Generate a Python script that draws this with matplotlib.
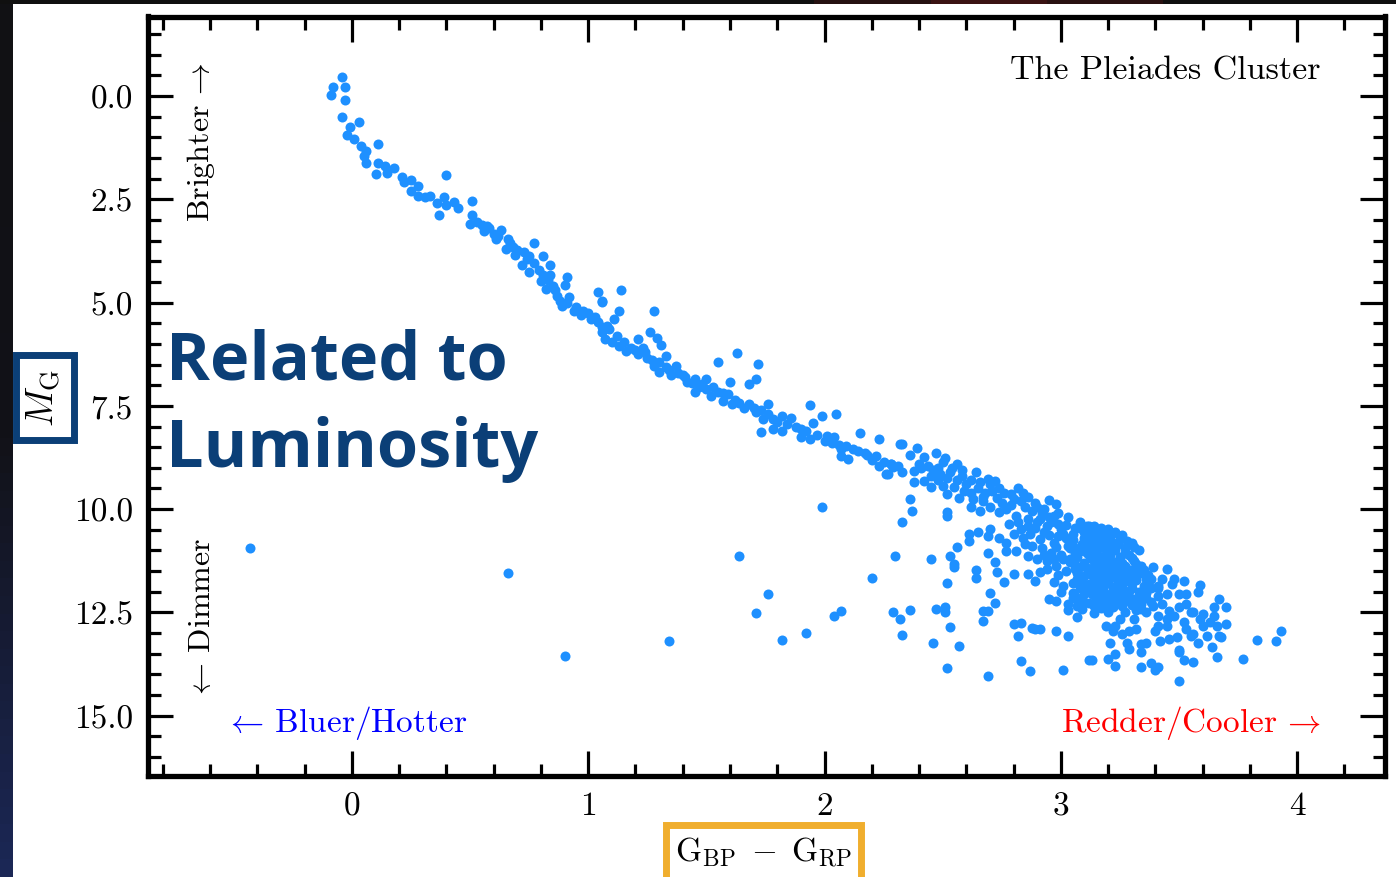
import numpy as np
import matplotlib
matplotlib.use('Agg')
import matplotlib.pyplot as plt
from matplotlib.patches import Rectangle
from matplotlib.ticker import MultipleLocator, FormatStrFormatter

# ---------------------------------------------------------------------------
# Pleiades colour-magnitude data: (G_BP - G_RP, M_G)
# ---------------------------------------------------------------------------
upper_ms = [
    (-0.04, -0.45), (-0.08, -0.23), (-0.03, -0.21), (-0.09, -0.02), (-0.03, 0.10),
    (-0.04, 0.51), (0.03, 0.64), (-0.01, 0.76), (-0.02, 0.94), (0.01, 1.04),
    (0.04, 1.22), (0.06, 1.32), (0.11, 1.15), (0.05, 1.44), (0.06, 1.63),
    (0.11, 1.61), (0.10, 1.89), (0.14, 1.69), (0.15, 1.86), (0.18, 1.74),
    (0.21, 1.97), (0.22, 2.09), (0.25, 2.03), (0.28, 2.17), (0.25, 2.29),
    (0.28, 2.41), (0.31, 2.44), (0.33, 2.42), (0.40, 1.91), (0.36, 2.60),
    (0.39, 2.45), (0.37, 2.88), (0.40, 2.64), (0.43, 2.57), (0.45, 2.71),
    (0.51, 2.55), (0.51, 2.88), (0.50, 3.10), (0.55, 3.12), (0.57, 3.14),
    (0.56, 3.26), (0.60, 3.34), (0.63, 3.24), (0.61, 3.46), (0.66, 3.46),
    (0.77, 3.56), (0.65, 3.70), (0.68, 3.66), (0.69, 3.85), (0.73, 3.78),
    (0.75, 3.88), (0.81, 3.87), (0.84, 4.08), (0.72, 4.09), (0.75, 4.27),
    (0.80, 4.47), (0.81, 4.33), (0.84, 4.33), (0.91, 4.39), (0.90, 4.58),
    (0.82, 4.67), (0.85, 4.59), (0.87, 4.84), (0.92, 4.87), (0.89, 5.08),
    (0.94, 5.20), (0.98, 5.20), (1.04, 4.75), (1.06, 4.96), (1.01, 5.40),
    (1.04, 5.48), (1.06, 5.60), (0.53, 3.05), (0.58, 3.20), (0.62, 3.38),
    (0.67, 3.55), (0.70, 3.72), (0.74, 3.95), (0.77, 4.05), (0.79, 4.20),
    (0.83, 4.45), (0.86, 4.70), (0.88, 4.95), (0.91, 5.00), (0.95, 5.10),
    (0.97, 5.30), (1.00, 5.25), (1.03, 5.35),
]

mid_ms = [
    (1.14, 4.70), (1.06, 4.98), (1.13, 5.20), (1.28, 5.21), (1.11, 5.40),
    (1.08, 5.56), (1.06, 5.72), (1.07, 5.88), (1.12, 5.80), (1.13, 6.05),
    (1.16, 6.17), (1.21, 5.88), (1.23, 6.09), (1.26, 5.71), (1.29, 5.86),
    (1.31, 6.02), (1.33, 6.29), (1.21, 6.25), (1.25, 6.33), (1.28, 6.53),
    (1.30, 6.69), (1.33, 6.57), (1.37, 6.53), (1.35, 6.76), (1.40, 6.76),
    (1.42, 6.93), (1.45, 6.85), (1.50, 6.85), (1.45, 7.17), (1.47, 7.05),
    (1.52, 7.26), (1.55, 7.17), (1.55, 6.43), (1.63, 6.23), (1.72, 6.48),
    (1.71, 6.85), (1.68, 6.97), (1.60, 6.93), (1.59, 7.22), (1.57, 7.38),
    (1.61, 7.46), (1.66, 7.54), (1.68, 7.46), (1.71, 7.66), (1.76, 7.46),
    (1.73, 8.14), (1.74, 7.82), (1.78, 7.82), (1.82, 7.74), (1.86, 7.80),
    (1.78, 8.06), (1.82, 8.10), (1.90, 8.06), (1.94, 7.48), (1.95, 7.92),
    (1.99, 7.75), (2.05, 7.69), (1.90, 8.26), (1.94, 8.31), (2.00, 8.35),
    (2.04, 8.26), (2.07, 8.55), (2.12, 8.55), (2.15, 8.15), (2.23, 8.30),
    (2.07, 8.72), (2.10, 8.79), (2.17, 8.63), (2.22, 8.71), (2.23, 8.95),
    (2.26, 9.15), (2.28, 8.91), (2.32, 8.43), (1.09, 5.65), (1.10, 5.95),
    (1.15, 5.95), (1.18, 6.10), (1.20, 6.15), (1.24, 6.20), (1.27, 6.40),
    (1.30, 6.45), (1.34, 6.62), (1.38, 6.70), (1.41, 6.80), (1.44, 6.95),
    (1.48, 6.98), (1.50, 7.10), (1.53, 7.05), (1.57, 7.20), (1.62, 7.35),
    (1.64, 7.42), (1.70, 7.55), (1.73, 7.60), (1.76, 7.70), (1.80, 7.88),
    (1.84, 7.95), (1.88, 8.00), (1.92, 8.12), (1.97, 8.20), (2.01, 8.22),
    (2.03, 8.40), (2.06, 8.45), (2.09, 8.48), (2.14, 8.60), (2.18, 8.68),
    (2.20, 8.80), (2.25, 8.85), (2.29, 8.98),
]

lower_ms = [
    (2.33, 8.43), (2.39, 8.53), (2.42, 8.75), (2.47, 8.63), (2.50, 8.87),
    (2.51, 8.77), (2.56, 8.91), (2.58, 9.05), (2.64, 9.11), (2.69, 9.27),
    (2.72, 9.32), (2.28, 8.91), (2.31, 8.95), (2.27, 9.15), (2.33, 9.11),
    (2.38, 9.07), (2.38, 9.35), (2.42, 9.31), (2.45, 9.19), (2.49, 9.15),
    (2.53, 9.11), (2.45, 9.47), (2.50, 9.43), (2.55, 9.47), (2.59, 9.55),
    (2.52, 9.64), (2.57, 9.72), (2.63, 9.76), (2.67, 9.80), (2.73, 9.72),
    (2.79, 9.64), (2.82, 9.50), (2.84, 9.60), (2.89, 9.84), (2.95, 9.78),
    (2.98, 9.88), (2.93, 10.00), (2.97, 10.16), (3.03, 10.20), (3.08, 10.32),
    (3.11, 10.40), (2.62, 9.96), (2.66, 10.04), (2.70, 9.96), (2.74, 10.08),
    (2.77, 10.00), (2.81, 10.16), (2.86, 10.24), (2.90, 10.32), (2.94, 10.40),
    (3.00, 10.48), (3.05, 10.60), (3.10, 10.69), (2.83, 10.48), (2.87, 10.60),
    (2.91, 10.73), (2.97, 10.81), (3.03, 10.89), (3.08, 11.01), (2.77, 10.81),
    (2.77, 11.01), (2.81, 11.01), (2.86, 11.13), (2.90, 11.21), (2.94, 11.25),
    (2.98, 11.37), (3.04, 11.29), (3.08, 11.41), (3.10, 11.61), (3.07, 11.69),
    (2.97, 11.77), (3.01, 11.86), (3.05, 12.02), (3.08, 12.18), (2.86, 11.57),
    (2.91, 11.53), (2.89, 11.74), (2.95, 12.18), (2.98, 12.22), (3.05, 12.14),
    (3.03, 12.44), (3.07, 12.62), (3.09, 12.42), (3.12, 10.40), (2.36, 8.70),
    (2.40, 8.90), (2.44, 8.95), (2.48, 9.00), (2.52, 9.25), (2.56, 9.30),
    (2.60, 9.40), (2.65, 9.50), (2.68, 9.60), (2.71, 9.55), (2.75, 9.85),
    (2.79, 9.90), (2.85, 9.95), (2.88, 10.05), (2.92, 10.10), (2.96, 10.30),
    (2.99, 10.35), (3.01, 10.60), (2.93, 10.55), (2.89, 10.45), (2.85, 10.85),
    (2.92, 10.95), (2.96, 11.05), (3.00, 11.10), (3.02, 11.50), (2.99, 11.60),
    (2.94, 11.45), (3.05, 11.80), (3.06, 11.45), (3.00, 12.00),
    (2.41, 9.00), (2.46, 9.05), (2.54, 9.00), (2.58, 9.20), (2.62, 9.30),
    (2.66, 9.35), (2.70, 9.40), (2.74, 9.48), (2.76, 9.60), (2.80, 9.75),
    (2.83, 9.80), (2.86, 9.70), (2.90, 9.95), (2.48, 9.30), (2.62, 9.60),
    (2.67, 9.70),
]

cluster_core = [
    (3.10, 10.55), (3.13, 10.50), (3.16, 10.62), (3.14, 10.75), (3.18, 10.80),
    (3.12, 10.88), (3.16, 10.95), (3.20, 10.90), (3.11, 11.05), (3.15, 11.10),
    (3.19, 11.08), (3.23, 11.00), (3.13, 11.20), (3.17, 11.25), (3.21, 11.22),
    (3.25, 11.15), (3.10, 11.30), (3.14, 11.38), (3.18, 11.40), (3.22, 11.35),
    (3.26, 11.30), (3.12, 11.50), (3.16, 11.55), (3.20, 11.52), (3.24, 11.48),
    (3.28, 11.45), (3.14, 11.68), (3.18, 11.70), (3.22, 11.65), (3.26, 11.62),
    (3.30, 11.58), (3.12, 11.82), (3.16, 11.85), (3.20, 11.80), (3.24, 11.78),
    (3.28, 11.75), (3.32, 11.72), (3.14, 11.98), (3.18, 12.00), (3.22, 11.95),
    (3.26, 11.92), (3.30, 11.90), (3.16, 12.12), (3.20, 12.15), (3.24, 12.10),
    (3.28, 12.05), (3.12, 12.28), (3.19, 12.30), (3.23, 12.25), (3.27, 12.22),
    (3.31, 12.18), (3.09, 10.85), (3.07, 11.15), (3.06, 10.95), (3.21, 10.72),
    (3.24, 10.85), (3.27, 10.95), (3.29, 11.10), (3.31, 11.25), (3.33, 11.40),
    (3.34, 11.55), (3.36, 11.70), (3.35, 11.85), (3.33, 12.00), (3.11, 11.92),
    (3.09, 11.78), (3.15, 12.20), (3.10, 12.05), (3.22, 12.38), (3.17, 12.40),
    (3.26, 12.35), (3.30, 12.32), (3.34, 12.30), (3.20, 10.65), (3.25, 10.70),
    (3.05, 10.75), (3.18, 10.50), (3.23, 10.55),
]

cluster_fill = [
    (3.08, 10.45), (3.11, 10.62), (3.14, 10.58), (3.17, 10.70), (3.12, 10.78),
    (3.15, 10.85), (3.19, 10.95), (3.22, 10.82), (3.10, 10.98), (3.13, 11.02),
    (3.17, 11.15), (3.21, 11.10), (3.24, 11.25), (3.12, 11.12), (3.15, 11.30),
    (3.19, 11.32), (3.23, 11.42), (3.27, 11.38), (3.11, 11.42), (3.14, 11.47),
    (3.18, 11.60), (3.22, 11.56), (3.26, 11.52), (3.30, 11.48), (3.13, 11.60),
    (3.16, 11.75), (3.20, 11.72), (3.24, 11.68), (3.28, 11.65), (3.32, 11.62),
    (3.14, 11.90), (3.18, 11.92), (3.22, 11.88), (3.26, 11.84), (3.30, 11.80),
    (3.13, 12.05), (3.17, 12.08), (3.21, 12.05), (3.25, 12.00), (3.29, 11.98),
    (3.18, 12.22), (3.21, 12.20), (3.25, 12.18), (3.29, 12.12), (3.33, 12.10),
    (3.06, 11.05), (3.04, 11.20), (3.06, 11.35), (3.07, 11.55), (3.09, 11.65),
    (3.08, 11.90), (3.06, 12.10), (3.03, 12.30), (3.07, 12.35), (3.10, 12.25),
    (3.14, 12.35), (3.02, 10.70), (3.04, 10.95), (2.99, 10.65), (2.95, 10.62),
    (2.98, 10.92), (3.01, 11.20), (2.97, 11.20), (2.93, 11.10), (2.88, 10.90),
    (2.84, 10.70), (2.80, 10.60), (2.78, 10.35), (2.82, 10.30), (2.86, 10.42),
    (2.91, 10.25), (2.95, 10.20), (2.99, 10.10), (3.02, 10.38), (3.06, 10.45),
    (3.14, 10.42), (3.17, 10.45), (3.20, 10.48), (3.26, 10.62), (3.28, 10.78),
    (3.31, 10.92), (3.27, 11.05), (3.30, 11.18), (3.32, 11.32), (3.35, 11.48),
    (3.37, 11.60), (3.38, 11.90), (3.36, 12.15), (3.39, 12.35), (3.32, 12.45),
    (3.27, 12.48), (3.20, 12.48), (3.14, 12.52),
]

red_tail = [
    (3.18, 10.60), (3.22, 10.58), (3.30, 10.82), (3.33, 11.00), (3.34, 11.37),
    (3.39, 11.40), (3.45, 11.45), (3.43, 11.68), (3.37, 11.77), (3.41, 11.90),
    (3.48, 11.70), (3.47, 11.82), (3.52, 11.74), (3.50, 12.06), (3.53, 12.06),
    (3.59, 11.84), (3.58, 12.00), (3.67, 12.18), (3.65, 12.38), (3.70, 12.38),
    (3.50, 12.38), (3.55, 12.50), (3.60, 12.54), (3.43, 12.30), (3.38, 12.26),
    (3.34, 12.42), (3.36, 12.50), (3.41, 12.58), (3.45, 12.66), (3.41, 12.82),
    (3.45, 12.82), (3.63, 12.74), (3.65, 12.58), (3.66, 12.82), (3.70, 12.78),
    (3.67, 13.08), (3.68, 13.10), (3.60, 12.82), (3.59, 12.65), (3.62, 13.07),
    (3.56, 13.03), (3.53, 12.91), (3.52, 12.74), (3.49, 13.10), (3.46, 13.14),
    (3.42, 13.19), (3.40, 12.95), (3.36, 13.23), (3.34, 13.27), (3.28, 13.23),
    (3.26, 13.03), (3.29, 12.95), (3.32, 12.91), (3.29, 13.39), (3.34, 13.47),
    (3.23, 12.82), (3.22, 12.95), (3.19, 12.82), (3.25, 12.66), (3.31, 12.66),
    (3.21, 13.24), (3.23, 13.51), (3.20, 13.63), (3.13, 13.66), (3.23, 13.79),
    (3.34, 13.81), (3.38, 13.72), (3.40, 13.89), (3.41, 13.81), (3.50, 13.47),
    (3.50, 13.40), (3.52, 13.65), (3.56, 13.70), (3.50, 14.15), (3.64, 13.34),
    (3.66, 13.57), (3.77, 13.63), (3.83, 13.16), (3.91, 13.20), (3.93, 12.95),
    (3.55, 13.07), (3.58, 13.23), (3.41, 12.10), (3.45, 12.06), (3.36, 12.02),
    (3.38, 11.70), (3.41, 11.86), (3.53, 12.30), (3.56, 12.50), (3.46, 12.46),
    (3.48, 12.58),
]

faint_scatter = [
    (2.36, 9.76), (2.37, 10.05), (2.33, 10.32), (2.52, 10.08), (2.52, 10.16),
    (2.61, 10.60), (2.61, 10.77), (2.65, 10.56), (2.70, 10.48), (2.69, 10.65),
    (2.74, 10.69), (2.56, 10.91), (2.53, 11.13), (2.55, 11.33), (2.55, 11.40),
    (2.69, 11.05), (2.72, 11.27), (2.73, 11.51), (2.64, 11.48), (2.64, 11.67),
    (2.76, 11.77), (2.80, 11.56), (2.52, 11.80), (2.70, 12.04), (2.72, 12.28),
    (2.67, 12.46), (2.69, 12.46), (2.67, 12.72), (2.45, 11.21), (2.30, 11.13),
    (2.29, 12.50), (2.32, 12.67), (2.33, 13.05), (2.36, 12.44), (2.47, 12.42),
    (2.51, 12.38), (2.51, 12.49), (2.53, 12.85), (2.46, 13.24), (2.57, 13.31),
    (2.52, 13.84), (2.69, 14.04), (2.80, 12.78), (2.83, 12.76), (2.82, 13.07),
    (2.88, 12.87), (2.91, 12.89), (2.89, 12.90), (2.98, 12.95), (3.03, 13.07),
    (2.83, 13.67), (2.87, 13.91), (3.01, 13.89), (3.12, 13.65),
]

outliers = [
    (-0.43, 10.94), (0.66, 11.55), (0.90, 13.56), (1.34, 13.20), (1.64, 11.14),
    (1.76, 12.06), (1.71, 12.52), (1.82, 13.17), (1.92, 13.00), (1.99, 9.95),
    (2.04, 12.59), (2.07, 12.47), (2.20, 11.67),
]

stars = np.array(upper_ms + mid_ms + lower_ms + cluster_core + cluster_fill
                 + red_tail + faint_scatter + outliers)
bp_rp = stars[:, 0]
m_g = stars[:, 1]

# ---------------------------------------------------------------------------
plt.rcParams['font.family'] = 'serif'
plt.rcParams['font.serif'] = ['cmr10']
plt.rcParams['mathtext.fontset'] = 'cm'
plt.rcParams['axes.formatter.use_mathtext'] = True

W, H = 1396, 878
fig = plt.figure(figsize=(W / 100, H / 100), dpi=100, facecolor='white')

# dark slide background peeking out on the left and top
strip_l = fig.add_axes([0, 0, 13 / W, 1])
strip_l.imshow(np.linspace(0, 1, 50).reshape(-1, 1), aspect='auto',
               cmap=matplotlib.colors.LinearSegmentedColormap.from_list(
                   'bg', ['#111114', '#121218', '#1b2755']))
strip_l.axis('off')
strip_t = fig.add_axes([0, 1 - 5 / H, 1, 5 / H])
strip_t.imshow(np.array([[0, 0, 0, 0, 0, 0, 0, 0.5, 1, 0.6, 0, 0]]), aspect='auto',
               cmap=matplotlib.colors.LinearSegmentedColormap.from_list(
                   'bgt', ['#101010', '#3a1212']))
strip_t.axis('off')

ax = fig.add_axes([148 / W, 1 - 777 / H, 1237 / W, 759.5 / H])
ax.scatter(bp_rp, m_g, s=52, color='#1E90FF', linewidths=0, zorder=3)

ax.set_xlim(-0.863, 4.372)
ax.set_ylim(16.46, -1.925)
ax.xaxis.set_major_locator(MultipleLocator(1))
ax.xaxis.set_minor_locator(MultipleLocator(0.2))
ax.yaxis.set_major_locator(MultipleLocator(2.5))
ax.yaxis.set_minor_locator(MultipleLocator(0.5))
ax.yaxis.set_major_formatter(FormatStrFormatter('%.1f'))
ax.xaxis.set_major_formatter(FormatStrFormatter('%d'))
ax.tick_params(which='both', direction='in', top=True, right=True,
               width=2.3, color='black', labelsize=24, pad=11)
ax.tick_params(which='major', length=18)
ax.tick_params(which='minor', length=9)
for side in ['left', 'right', 'top', 'bottom']:
    ax.spines[side].set_linewidth(3.8)
    ax.spines[side].set_color('black')

ax.set_xlabel(r'$\mathrm{G_{BP}}\;-\;\mathrm{G_{RP}}$', fontsize=24)
ax.xaxis.set_label_coords((764 - 148) / 1237, (777 - 853) / 759.5)
ax.xaxis.label.set_va('center')
ax.set_ylabel(r'$M_{\rm G}$', fontsize=27)
ax.yaxis.set_label_coords((44 - 148) / 1237, (777 - 398) / 759.5)
ax.yaxis.label.set_va('center')

ax.text((1320 - 148) / 1237, (777 - 80) / 759.5, 'The Pleiades Cluster',
        transform=ax.transAxes, ha='right', va='baseline', fontsize=24.5)
ax.text((225 - 148) / 1237, (777 - 732) / 759.5, r'$\leftarrow\,$Bluer/Hotter',
        transform=ax.transAxes, ha='left', va='baseline', fontsize=24, color='blue')
ax.text((1320 - 148) / 1237, (777 - 732) / 759.5, r'Redder/Cooler$\,\rightarrow$',
        transform=ax.transAxes, ha='right', va='baseline', fontsize=24, color='red')
ax.text((209 - 148) / 1237, (777 - 222) / 759.5, r'Brighter$\,\rightarrow$',
        transform=ax.transAxes, ha='left', va='baseline', rotation=90,
        rotation_mode='anchor', fontsize=23)
ax.text((210 - 148) / 1237, (777 - 700) / 759.5, r'$\leftarrow\,$Dimmer',
        transform=ax.transAxes, ha='left', va='baseline', rotation=90,
        rotation_mode='anchor', fontsize=23)

# slide annotation
fig.text(166 / W, 1 - 380 / H, 'Related to', fontfamily='Open Sans',
         fontweight='bold', fontsize=48, color='#0b3f77', ha='left', va='baseline')
fig.text(166 / W, 1 - 467 / H, 'Luminosity', fontfamily='Open Sans',
         fontweight='bold', fontsize=48, color='#0b3f77', ha='left', va='baseline')

# highlight boxes round the axis labels
fig.add_artist(Rectangle((15.5 / W, 1 - 440.5 / H), 58 / W, 85 / H,
                         transform=fig.transFigure, fill=False,
                         edgecolor='#0b3f77', linewidth=5))
fig.add_artist(Rectangle((665.5 / W, -0.03), 195 / W, 0.03 + 1 - 825.5 / H,
                         transform=fig.transFigure, fill=False,
                         edgecolor='#F0AE2E', linewidth=5))

fig.savefig('out.png', dpi=100, facecolor='white')
